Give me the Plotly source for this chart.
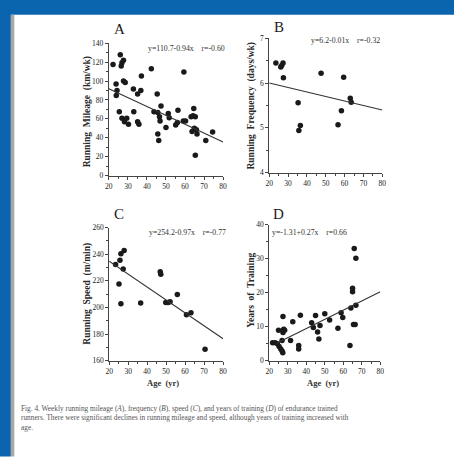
import plotly.graph_objects as go

W, H = 458, 457

# ---- data ----
ageA = [22.2, 23.8, 24.3, 23.9, 26.0, 26.9, 26.5, 27.7, 27.7, 28.6, 25.5, 26.9, 28.2, 29.4, 30.3,
        32.9, 33.1, 35.1, 36.8, 37.1, 35.1, 35.8, 42.3, 45.4, 43.7, 45.7, 46.6, 47.4, 46.9, 45.7,
        46.2, 50.0, 51.2, 51.7, 56.3, 55.1, 56.0, 59.1, 60.3, 59.4, 63.2, 64.6, 64.2, 65.4, 63.7,
        64.9, 66.0, 66.3, 65.4, 70.9, 74.5]
mileage = [117.5, 96.8, 89.9, 84.7, 127.9, 119.3, 115.8, 122, 100, 98.5, 67.4, 60.5, 57, 60.5, 54.3,
           91.6, 67.4, 86.4, 89.9, 105.4, 57, 54.3, 113, 86.4, 67.4, 66.7, 62.2, 73.6, 57.7, 43.9,
           37, 50.8, 65.7, 61.2, 69.1, 53.6, 56, 57.7, 57.7, 109.6, 62.2, 70.9, 63.3, 62.2, 46.7,
           50.1, 48.4, 43.9, 21.4, 37, 46]

ageB = [23.5, 26.1, 27.3, 26.6, 27.5, 35.3, 35.7, 36.5, 47.5, 59.5, 56.5, 58.3, 63.0, 63.5]
frequency = [6.45, 6.36, 6.45, 6.39, 6.12, 5.56, 4.94, 5.05, 6.22, 6.13, 5.07, 5.38, 5.66, 5.57]

ageC = [23.4, 25.7, 26.2, 27.9, 27.4, 25.2, 26.2, 36.6, 46.9, 47.2, 49.8, 51.0, 52.1, 55.9, 60.7, 63.1, 70.5]
speed = [232.3, 235.5, 240.4, 242.8, 228.9, 217.6, 202.9, 203.4, 226.9, 225, 203.7, 203.7, 204.4,
         209.8, 194.6, 196, 168.6]

ageD = [21.8, 23.2, 24.4, 25.0, 25.3, 26.2, 26.9, 27.3, 26.9, 27.4, 27.8, 28.3, 27.4, 31.5, 32.7,
        35.9, 35.9, 36.8, 42.9, 43.8, 45.0, 46.1, 46.8, 47.4, 50.0, 52.6, 57.1, 58.8, 59.7, 63.6,
        64.1, 65.0, 65.0, 65.5, 66.4, 66.8, 65.9, 66.8]
years = [5.3, 5.3, 5.0, 9.0, 4.2, 3.5, 2.9, 2.4, 6.0, 8.3, 9.3, 9.0, 13, 6.0, 11.5,
         4.5, 3.5, 13.4, 11.2, 9.8, 13.3, 8.5, 6.4, 10.4, 13.8, 12.0, 9.6, 14.1, 12.7, 4.5,
         15.5, 21.3, 20.3, 10.7, 10.7, 16.3, 33.0, 30.1]

intercepts = [110.7, 6.2, 254.2, -1.31]
slopes = [-0.94, -0.01, -0.97, 0.27]
line_x = [[20, 80], [20, 80], [20, 80], [24, 80]]
equations = ["y=110.7-0.94x&nbsp;&nbsp;&nbsp;&nbsp;r=-0.60", "y=6.2-0.01x&nbsp;&nbsp;&nbsp;&nbsp;r=-0.32",
             "y=254.2-0.97x&nbsp;&nbsp;&nbsp;&nbsp;r=-0.77", "y=-1.31+0.27x&nbsp;&nbsp;&nbsp;&nbsp;r=0.66"]
letters = ["A", "B", "C", "D"]
ytitles = ["Running  Mileage  (km/wk)", "Running  Frequency  (days/wk)",
           "Running  Speed  (m/min)", "Years  of  Training"]
yranges = [[0, 140], [4, 7], [160, 260], [0, 40]]
ydticks = [20, 1, 20, 10]
yminor = [10, 0.5, 10, 5]
caption = ("Fig. 4. Weekly running mileage (<i>A</i>), frequency (<i>B</i>), speed (<i>C</i>), and years of training (<i>D</i>) of endurance trained<br>"
           "runners. There were significant declines in running mileage and speed, although years of training increased with<br>"
           "age.")

xs = [ageA, ageB, ageC, ageD]
ys = [mileage, frequency, speed, years]

# pixel boxes (x0, x1, ytop, ybottom)
boxes = [(106.7, 223, 40, 175), (270, 385, 35, 172), (107, 223, 228, 364), (270, 383, 225, 364)]

def px(x):
    return x / W

def py(y):
    return 1 - y / H

fig = go.Figure()
SERIF = "Liberation Serif, DejaVu Serif, serif"
INK = "#1a1a1a"

for i in range(4):
    xa = "x" if i == 0 else f"x{i+1}"
    ya = "y" if i == 0 else f"y{i+1}"
    fig.add_trace(go.Scatter(x=xs[i], y=ys[i], mode="markers", xaxis=xa, yaxis=ya,
                             marker=dict(color=INK, size=5.5, line=dict(width=0)), showlegend=False))
    lx = line_x[i]
    ly = [intercepts[i] + slopes[i] * v for v in lx]
    fig.add_trace(go.Scatter(x=lx, y=ly, mode="lines", xaxis=xa, yaxis=ya,
                             line=dict(color="#333", width=1.1), showlegend=False))
    x0, x1, yt, yb = boxes[i]
    axcommon = dict(showgrid=False, zeroline=False, showline=True, linecolor="#444", linewidth=1,
                    ticks="outside", ticklen=3, tickcolor="#444", tickwidth=1,
                    tickfont=dict(family=SERIF, size=7.5, color="#222"))
    fig.layout[("xaxis" if i == 0 else f"xaxis{i+1}")] = dict(
        domain=[px(x0), px(x1)], range=[20, 80], dtick=10, tick0=20, anchor=ya,
        minor=dict(dtick=5, ticklen=2, ticks="outside", tickcolor="#444"), **axcommon)
    fig.layout[("yaxis" if i == 0 else f"yaxis{i+1}")] = dict(
        domain=[py(yb), py(yt)], range=yranges[i], dtick=ydticks[i], tick0=yranges[i][0], anchor=xa,
        minor=dict(dtick=yminor[i], ticklen=2, ticks="outside", tickcolor="#444"), **axcommon)

annotations = []
letter_pos = [(118, 26), (280, 23), (117, 214), (279, 214)]
eq_pos = [(186, 45), (348, 37), (187, 233), (311, 233)]
ytitle_pos = [(85, 110), (252, 104), (85, 296), (252, 292)]

def ann(x, y, text, **kw):
    d = dict(x=px(x), y=py(y), xref="paper", yref="paper", text=text, showarrow=False,
             xanchor="center", yanchor="middle")
    d.update(kw)
    return d

for i in range(4):
    annotations.append(ann(*letter_pos[i], letters[i], font=dict(family=SERIF, size=15, color=INK)))
    annotations.append(ann(*eq_pos[i], equations[i], font=dict(family=SERIF, size=7.8, color="#333")))
    annotations.append(ann(*ytitle_pos[i], "<b>" + ytitles[i] + "</b>", textangle=-90,
                           font=dict(family=SERIF, size=9.5, color="#2a2a2a")))
for xp in (162, 325):
    annotations.append(ann(xp, 387, "<b>Age  (yr)</b>", font=dict(family=SERIF, size=8.5, color="#333")))
annotations.append(ann(15, 422, caption, align="left", xanchor="left",
                       font=dict(family=SERIF, size=7.3, color="#555")))

shapes = [
    dict(type="rect", xref="paper", yref="paper", x0=0, x1=1, y0=py(11), y1=1.01,
         fillcolor="#0a64ae", line=dict(width=0), layer="above"),
    dict(type="rect", xref="paper", yref="paper", x0=-0.01, x1=px(7), y0=-0.01, y1=1.01,
         fillcolor="#0a64ae", line=dict(width=0), layer="above"),
    dict(type="rect", xref="paper", yref="paper", x0=px(7), x1=px(10.5), y0=-0.01, y1=py(11),
         fillcolor="#a8a8a8", line=dict(width=0), layer="above"),
]

fig.update_layout(width=W, height=H, margin=dict(l=0, r=0, t=0, b=0),
                  paper_bgcolor="white", plot_bgcolor="white",
                  annotations=annotations, shapes=shapes, showlegend=False)

fig.write_html("out.html")
